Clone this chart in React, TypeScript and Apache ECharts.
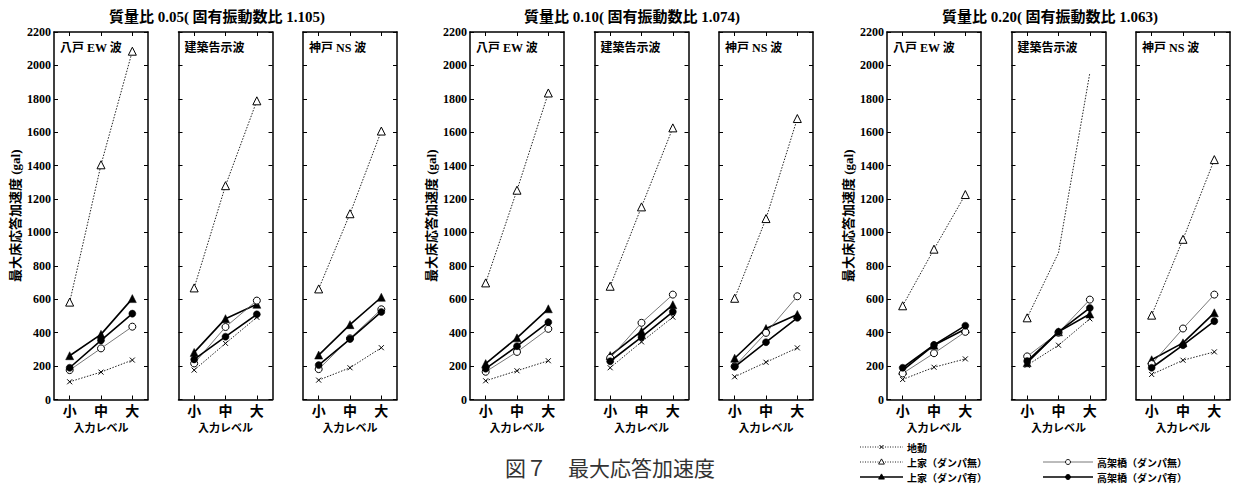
import React, { useEffect, useRef } from 'react';
import * as echarts from 'echarts';

// ---------- data ----------
const levels = ['小', '中', '大'];
const waveNames = ['八戸 EW 波', '建築告示波', '神戸 NS 波'];
const groupTitles = [
  '質量比 0.05( 固有振動数比 1.105)',
  '質量比 0.10( 固有振動数比 1.074)',
  '質量比 0.20( 固有振動数比 1.063)',
];
const seriesNames = ['地動', '上家（ダンパ無）', '上家（ダンパ有）', '高架橋（ダンパ無）', '高架橋（ダンパ有）'];
const yMin = 0;
const yMax = 2200;
const yStep = 200;
const xName = '入力レベル';
const yName = '最大床応答加速度 (gal)';
const caption = '図７　最大応答加速度';

// mass ratio 0.05 : [八戸, 建築告示, 神戸] x [小, 中, 大]
const ground05 = [[106, 164, 236], [176, 336, 492], [116, 190, 310]];
const upperNo05 = [[583, 1405, 2085], [668, 1280, 1788], [662, 1112, 1607]];
const upperYes05 = [[262, 390, 604], [282, 484, 570], [266, 448, 612]];
const viaductNo05 = [[176, 306, 436], [216, 434, 592], [182, 366, 540]];
const viaductYes05 = [[190, 354, 514], [240, 376, 510], [206, 362, 524]];

// mass ratio 0.10
const ground10 = [[112, 172, 232], [190, 345, 493], [136, 223, 309]];
const upperNo10 = [[698, 1253, 1835], [678, 1153, 1626], [606, 1083, 1682]];
const upperYes10 = [[215, 369, 543], [263, 409, 567], [247, 425, 509]];
const viaductNo10 = [[166, 285, 423], [249, 459, 628], [199, 399, 618]];
const viaductYes10 = [[185, 319, 463], [229, 373, 525], [196, 343, 489]];

// mass ratio 0.20
const ground20 = [[120, 193, 243], [205, 325, 483], [150, 235, 285]];
const upperNo20 = [[561, 900, 1227], [489, 878, 1955], [505, 959, 1436]];
const upperYes20 = [[175, 325, 422], [220, 405, 512], [238, 339, 519]];
const viaductNo20 = [[156, 277, 405], [258, 400, 598], [212, 425, 628]];
const viaductYes20 = [[190, 327, 442], [230, 405, 548], [190, 325, 469]];
// points drawn without a marker (0.20, 建築告示波, 上家ダンパ無)
const upperNo20NoMarker = [[false, false, false], [false, true, true], [false, false, false]];

const groups = [
  [ground05, upperNo05, upperYes05, viaductNo05, viaductYes05],
  [ground10, upperNo10, upperYes10, viaductNo10, viaductYes10],
  [ground20, upperNo20, upperYes20, viaductNo20, viaductYes20],
];
const noMarker = [null, null, upperNo20NoMarker];

// ---------- layout / style ----------
const groupLeft = [54, 470, 887];
const panelStep = 124.5;
const panelW = 94;
const gridTop = 32;
const gridH = 367.5;
const serif = '"Liberation Serif", "Noto Sans CJK JP", serif';
const jp = '"Noto Sans CJK JP", sans-serif';

const crossPath = 'path://M0,0L10,10M0,10L10,0';
const seriesStyles: any[] = [
  {
    symbol: crossPath, symbolSize: 5,
    itemStyle: { color: '#000', borderColor: '#000', borderWidth: 1 },
    lineStyle: { color: '#222', width: 1, type: [1.5, 1.5] },
  },
  {
    symbol: 'triangle', symbolSize: 8,
    itemStyle: { color: '#fff', borderColor: '#000', borderWidth: 1 },
    lineStyle: { color: '#222', width: 1, type: [1.5, 1.5] },
  },
  {
    symbol: 'triangle', symbolSize: 8,
    itemStyle: { color: '#000', borderColor: '#000', borderWidth: 0.5 },
    lineStyle: { color: '#000', width: 1.6, type: 'solid' },
  },
  {
    symbol: 'circle', symbolSize: 7,
    itemStyle: { color: '#fff', borderColor: '#000', borderWidth: 1 },
    lineStyle: { color: '#555', width: 0.8, type: 'solid' },
  },
  {
    symbol: 'circle', symbolSize: 7,
    itemStyle: { color: '#000', borderColor: '#000', borderWidth: 0.5 },
    lineStyle: { color: '#000', width: 1.6, type: 'solid' },
  },
];
const drawOrder = [0, 1, 3, 2, 4];

function legendItem(k: number, x0: number, x1: number, y: number): any[] {
  const st = seriesStyles[k];
  const dash = Array.isArray(st.lineStyle.type) ? [1, 1.5] : null;
  const els: any[] = [
    {
      type: 'line', shape: { x1: x0, y1: y, x2: x1, y2: y },
      style: { stroke: st.lineStyle.color, lineWidth: Math.min(st.lineStyle.width, 1.3), lineDash: dash },
    },
  ];
  const cx = (x0 + x1) / 2;
  const s = 2.6;
  if (k === 0) {
    els.push({ type: 'line', shape: { x1: cx - 2, y1: y - 2, x2: cx + 2, y2: y + 2 }, style: { stroke: '#000', lineWidth: 1 } });
    els.push({ type: 'line', shape: { x1: cx - 2, y1: y + 2, x2: cx + 2, y2: y - 2 }, style: { stroke: '#000', lineWidth: 1 } });
  } else if (k === 1 || k === 2) {
    els.push({
      type: 'polygon',
      shape: { points: [[cx, y - s - 0.5], [cx + s + 0.3, y + s - 0.5], [cx - s - 0.3, y + s - 0.5]] },
      style: { fill: k === 1 ? '#fff' : '#000', stroke: '#000', lineWidth: 0.9 },
    });
  } else {
    els.push({
      type: 'circle', shape: { cx, cy: y, r: 2.5 },
      style: { fill: k === 3 ? '#fff' : '#000', stroke: '#000', lineWidth: 0.9 },
    });
  }
  els.push({
    type: 'text', x: x1 + 4, y,
    style: {
      text: seriesNames[k], font: `bold 10px ${jp}`, fill: '#000',
      align: 'left', verticalAlign: 'middle',
    },
  });
  return els;
}

function buildOption() {
  const grid: any[] = [];
  const xAxis: any[] = [];
  const yAxis: any[] = [];
  const series: any[] = [];
  const graphic: any[] = [];

  const axisLine = { show: true, onZero: false, lineStyle: { color: '#000', width: 1.5 } };

  for (let g = 0; g < 3; g++) {
    for (let p = 0; p < 3; p++) {
      const i = g * 3 + p;
      const left = groupLeft[g] + p * panelStep;
      grid.push({ left, top: gridTop, width: panelW, height: gridH, containLabel: false });

      xAxis.push({
        type: 'category', gridIndex: i, position: 'bottom', data: levels, boundaryGap: true,
        axisLine, axisTick: { show: true, inside: true, alignWithLabel: true, length: 4, lineStyle: { color: '#000' } },
        axisLabel: { fontSize: 14, fontWeight: 'bold', fontFamily: jp, color: '#000', margin: 3 },
        name: xName, nameLocation: 'middle', nameGap: 20,
        nameTextStyle: { fontSize: 11, fontWeight: 'bold', fontFamily: jp, color: '#000' },
        splitLine: { show: false },
      });
      xAxis.push({
        type: 'category', gridIndex: i, position: 'top', data: levels, boundaryGap: true,
        axisLine, axisTick: { show: true, inside: true, alignWithLabel: true, length: 4, lineStyle: { color: '#000' } },
        axisLabel: { show: false }, splitLine: { show: false },
      });
      yAxis.push({
        type: 'value', gridIndex: i, position: 'left', min: yMin, max: yMax, interval: yStep,
        axisLine, axisTick: { show: true, inside: true, length: 4, lineStyle: { color: '#000' } },
        axisLabel: {
          show: p === 0, fontSize: 12, fontWeight: 'bold', fontFamily: serif, color: '#000', margin: 3,
          formatter: (v: number) => String(v),
        },
        name: p === 0 ? yName : '', nameLocation: 'middle', nameGap: 32,
        nameTextStyle: { fontSize: 13, fontWeight: 'bold', fontFamily: serif, color: '#000' },
        splitLine: { show: false },
      });
      yAxis.push({
        type: 'value', gridIndex: i, position: 'right', min: yMin, max: yMax, interval: yStep,
        axisLine, axisTick: { show: true, inside: true, length: 4, lineStyle: { color: '#000' } },
        axisLabel: { show: false }, splitLine: { show: false },
      });

      for (const k of drawOrder) {
        const vals = groups[g][k][p];
        const nm = k === 1 ? noMarker[g] : null;
        const data = vals.map((v, j) => (nm && nm[p][j] ? { value: v, symbol: 'none' } : v));
        series.push({
          type: 'line', name: seriesNames[k], xAxisIndex: 2 * i, yAxisIndex: 2 * i,
          data, ...seriesStyles[k], z: 2 + k,
        });
      }

      graphic.push({
        type: 'text', x: left + 6, y: 48,
        style: {
          text: waveNames[p], font: `bold 12px ${serif}`, fill: '#000',
          align: 'left', verticalAlign: 'middle',
        },
      });
    }
  }

  const titleCenters = [217, 632, 1050];
  for (let g = 0; g < 3; g++) {
    graphic.push({
      type: 'text', x: titleCenters[g], y: 17,
      style: {
        text: groupTitles[g], font: `bold 15px ${serif}`, fill: '#000',
        align: 'center', verticalAlign: 'middle',
      },
    });
  }
  graphic.push({
    type: 'text', x: 505, y: 467,
    style: {
      text: caption, font: `21px ${jp}`, fill: '#333',
      align: 'left', verticalAlign: 'middle',
    },
  });

  // legend (drawn manually for exact placement)
  graphic.push(...legendItem(0, 860, 903, 447));
  graphic.push(...legendItem(1, 860, 903, 462));
  graphic.push(...legendItem(2, 860, 903, 477));
  graphic.push(...legendItem(3, 1043, 1093, 462));
  graphic.push(...legendItem(4, 1043, 1093, 477));

  return {
    animation: false,
    backgroundColor: '#fff',
    grid, xAxis, yAxis, series, graphic,
  };
}

export default function App() {
  const ref = useRef<HTMLDivElement>(null);
  useEffect(() => {
    if (!ref.current) return;
    const chart = echarts.init(ref.current, null, { renderer: 'svg' });
    chart.setOption(buildOption() as any);
    return () => chart.dispose();
  }, []);
  return (
    <div
      ref={ref}
      style={{ position: 'fixed', left: 0, top: 0, width: 1237, height: 491, background: '#fff' }}
    />
  );
}
